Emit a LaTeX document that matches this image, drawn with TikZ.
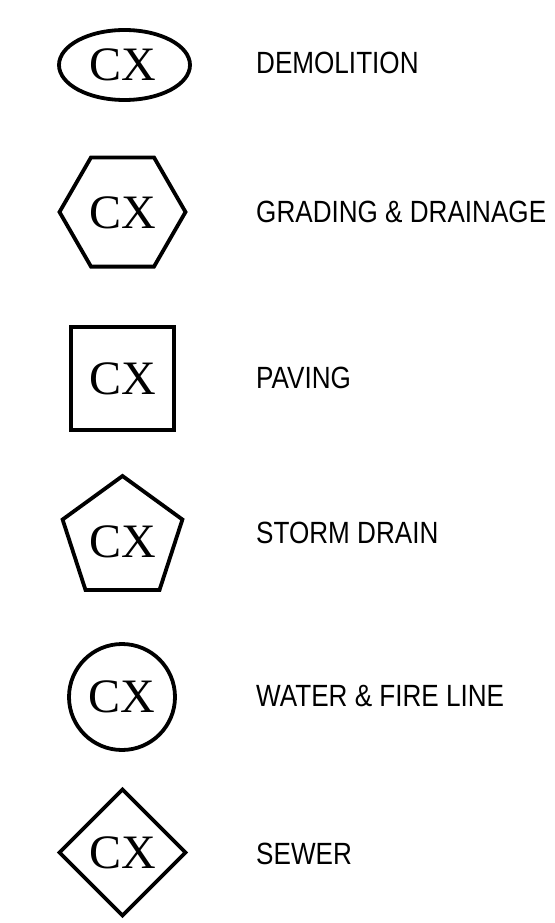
\documentclass[tikz,border=0pt]{standalone}
\usepackage{fontspec}
\newfontfamily\cxfont{Liberation Serif}
\newfontfamily\lblfont[FakeStretch=0.85]{Liberation Sans}
\begin{document}
\begin{tikzpicture}[x=1pt,y=-1pt,
  sym/.style={draw=black,line width=3.8pt},
  cx/.style={inner sep=0pt,font=\cxfont\fontsize{48}{52}\selectfont},
  lbl/.style={anchor=base west,inner sep=0pt,font=\lblfont\fontsize{30.7}{36}\selectfont}]
\useasboundingbox (0,0) rectangle (554,923);
% demolition
\draw[sym] (124.5,65) ellipse [x radius=65.5, y radius=35];
\node[cx] (c1) at (123,65) {CX};
\node[lbl] (l1) at (256,74) {DEMOLITION};
% grading
\draw[sym] (185.5,212) -- (154,157.4) -- (91,157.4) -- (59.5,212) -- (91,266.6) -- (154,266.6) -- cycle;
\node[cx] (c2) at (122.5,212.5) {CX};
\node[lbl] (l2) at (256,222) {GRADING \& DRAINAGE};
% paving
\draw[sym] (71,327) rectangle (174,430);
\node[cx] (c3) at (122.5,379) {CX};
\node[lbl] (l3) at (256,388) {PAVING};
% storm drain
\draw[sym] (122.5,476) -- (182.4,519.5) -- (159.5,590) -- (85.5,590) -- (62.6,519.5) -- cycle;
\node[cx] (c4) at (122.5,542) {CX};
\node[lbl] (l4) at (256,543) {STORM DRAIN};
% water
\draw[sym] (122,697) circle [radius=53];
\node[cx] (c5) at (122,696.5) {CX};
\node[lbl] (l5) at (256,706) {WATER \& FIRE LINE};
% sewer
\draw[sym] (122.5,789.5) -- (185.5,852.5) -- (122.5,915.5) -- (59.5,852.5) -- cycle;
\node[cx] (c6) at (122.5,853) {CX};
\node[lbl] (l6) at (256,864) {SEWER};
\end{tikzpicture}
\end{document}
